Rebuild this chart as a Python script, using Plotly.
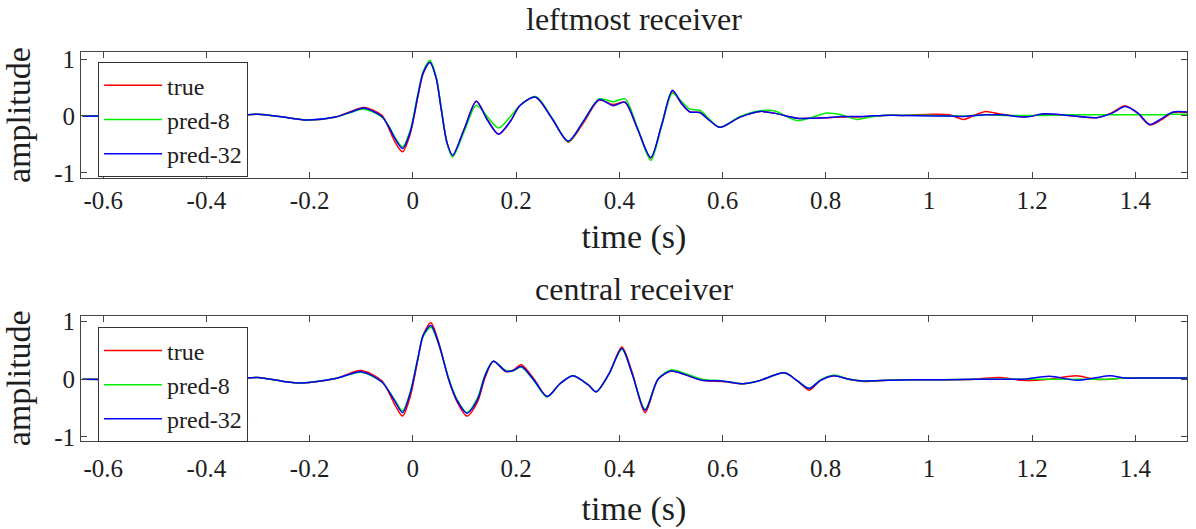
import plotly.graph_objects as go

# ---- leftmost receiver ----
t_left = [-0.64, -0.35, -0.30, -0.25, -0.205, -0.15, -0.12, -0.095, -0.06, -0.045, -0.035, -0.02,
          -0.005, 0.01, 0.02, 0.033, 0.045, 0.055, 0.066, 0.077, 0.10, 0.123, 0.145, 0.166, 0.19,
          0.207, 0.238, 0.27, 0.301, 0.33, 0.361, 0.388, 0.411, 0.435, 0.461, 0.482, 0.503, 0.52,
          0.537, 0.556, 0.575, 0.595, 0.634, 0.673, 0.70, 0.744, 0.775, 0.802, 0.83, 0.86, 0.885,
          0.911, 0.95, 1.008, 1.04, 1.067, 1.09, 1.11, 1.14, 1.189, 1.222, 1.27, 1.325, 1.355,
          1.38, 1.405, 1.428, 1.45, 1.473, 1.5]
left_true = [0, 0, 0.03, -0.02, -0.07, -0.02, 0.08, 0.15, 0.01, -0.25, -0.45, -0.63,
             -0.31, 0.35, 0.74, 0.95, 0.68, 0.12, -0.47, -0.70, -0.22, 0.26, -0.07, -0.32, -0.08,
             0.18, 0.33, -0.05, -0.46, -0.13, 0.28, 0.20, 0.24, -0.22, -0.74, -0.16, 0.43, 0.22,
             0.07, 0.06, -0.08, -0.20, -0.02, 0.08, 0.05, -0.04, -0.04, -0.03, -0.02, -0.02, -0.01,
             0.01, 0.01, 0.03, 0.02, -0.06, 0.02, 0.08, 0.03, -0.01, 0.03, 0.01, -0.03, 0.06,
             0.18, 0.04, -0.16, -0.07, 0.06, 0.06]
left_pred8 = [0, 0, 0.03, -0.02, -0.07, -0.02, 0.06, 0.12, -0.02, -0.20, -0.37, -0.54,
              -0.25, 0.40, 0.78, 0.98, 0.70, 0.15, -0.47, -0.72, -0.26, 0.19, -0.02, -0.21, 0.0,
              0.18, 0.34, -0.04, -0.45, -0.10, 0.30, 0.25, 0.30, -0.20, -0.78, -0.18, 0.40, 0.26,
              0.12, 0.10, -0.06, -0.20, -0.01, 0.09, 0.09, -0.08, -0.02, 0.05, 0.02, -0.06, -0.02,
              0.01, 0.01, 0.01, 0.0, 0.0, 0.01, 0.02, 0.01, 0.01, 0.01, 0.02, 0.02, 0.02,
              0.02, 0.02, 0.02, 0.02, 0.03, 0.03]
left_pred32 = [0, 0, 0.03, -0.02, -0.07, -0.02, 0.07, 0.14, -0.01, -0.22, -0.39, -0.57,
               -0.28, 0.37, 0.76, 0.94, 0.67, 0.12, -0.46, -0.69, -0.22, 0.26, -0.08, -0.32, -0.08,
               0.18, 0.33, -0.05, -0.44, -0.10, 0.29, 0.18, 0.24, -0.22, -0.73, -0.16, 0.45, 0.23,
               0.07, 0.06, -0.08, -0.20, -0.02, 0.08, 0.05, -0.04, -0.04, -0.03, -0.01, -0.01, 0.0,
               0.01, 0.01, 0.0, 0.0, -0.01, 0.01, 0.02, 0.02, -0.02, 0.04, 0.01, -0.03, 0.05,
               0.165, 0.05, -0.15, -0.05, 0.07, 0.07]

# ---- central receiver ----
t_central = [-0.64, -0.35, -0.30, -0.25, -0.215, -0.15, -0.10, -0.06, -0.035, -0.02, -0.005, 0.01,
             0.02, 0.035, 0.05, 0.07, 0.085, 0.105, 0.125, 0.14, 0.156, 0.18, 0.195, 0.21, 0.235,
             0.26, 0.285, 0.31, 0.34, 0.355, 0.38, 0.405, 0.425, 0.45, 0.475, 0.50, 0.53, 0.56,
             0.60, 0.64, 0.67, 0.72, 0.745, 0.768, 0.79, 0.815, 0.845, 0.873, 0.92, 0.97, 1.03,
             1.09, 1.138, 1.18, 1.234, 1.286, 1.32, 1.351, 1.38, 1.409, 1.45, 1.5]
central_true = [0, 0, 0.03, -0.04, -0.065, 0.01, 0.15, -0.03, -0.44, -0.64, -0.30, 0.35,
                0.76, 0.98, 0.64, -0.02, -0.38, -0.64, -0.40, 0.03, 0.31, 0.13, 0.16, 0.25, 0.0,
                -0.30, -0.08, 0.06, -0.10, -0.22, 0.09, 0.56, 0.12, -0.58, 0.0, 0.14, 0.07, -0.02,
                -0.04, -0.08, -0.03, 0.11, -0.03, -0.19, -0.02, 0.06, 0.0, -0.04, -0.02, -0.01, -0.01,
                0.0, 0.03, -0.02, 0.0, 0.06, 0.0, 0.0, 0.02, 0.02, 0.02, 0.02]
central_pred8 = [0, 0, 0.03, -0.04, -0.065, 0.01, 0.12, -0.05, -0.36, -0.55, -0.22, 0.38,
                 0.74, 0.90, 0.60, 0.0, -0.34, -0.58, -0.33, 0.08, 0.31, 0.15, 0.15, 0.21, -0.03,
                 -0.31, -0.08, 0.06, -0.10, -0.22, 0.09, 0.52, 0.09, -0.52, 0.0, 0.16, 0.09, 0.0,
                 -0.03, -0.08, -0.03, 0.11, -0.03, -0.16, -0.01, 0.07, 0.0, -0.03, -0.02, -0.01, -0.01,
                 0.0, 0.0, 0.0, 0.0, 0.0, 0.0, 0.0, 0.02, 0.02, 0.02, 0.02]
central_pred32 = [0, 0, 0.03, -0.04, -0.065, 0.01, 0.13, -0.05, -0.38, -0.58, -0.24, 0.37,
                  0.76, 0.93, 0.62, -0.02, -0.36, -0.59, -0.36, 0.06, 0.31, 0.14, 0.15, 0.22, -0.02,
                  -0.30, -0.08, 0.06, -0.10, -0.22, 0.09, 0.53, 0.09, -0.54, 0.0, 0.14, 0.07, -0.02,
                  -0.03, -0.08, -0.03, 0.11, -0.03, -0.16, -0.02, 0.06, 0.0, -0.03, -0.02, -0.01, -0.01,
                  0.0, 0.0, 0.0, 0.05, -0.02, 0.02, 0.06, 0.02, 0.02, 0.02, 0.02]

series_names = ["true", "pred-8", "pred-32"]
series_colors = ["#ff0000", "#00ee00", "#0000ff"]

x_tickvals = [-0.6, -0.4, -0.2, 0, 0.2, 0.4, 0.6, 0.8, 1.0, 1.2, 1.4]
x_ticktext = ["-0.6", "-0.4", "-0.2", "0", "0.2", "0.4", "0.6", "0.8", "1", "1.2", "1.4"]
y_tickvals = [-1, 0, 1]
y_ticktext = ["-1", "0", "1"]

FONT = "Liberation Serif"
AXIS_COLOR = "#444444"
TEXT_COLOR = "#1e1e1e"

fig = go.Figure()

panels = [
    (t_left, [left_true, left_pred8, left_pred32], "x", "y", "legend"),
    (t_central, [central_true, central_pred8, central_pred32], "x2", "y2", "legend2"),
]
for t, curves, xa, ya, leg in panels:
    for name, color, vals in zip(series_names, series_colors, curves):
        fig.add_trace(go.Scatter(
            x=t, y=vals, mode="lines", name=name, xaxis=xa, yaxis=ya, legend=leg,
            line=dict(color=color, width=1.5, shape="spline", smoothing=0.8),
        ))

axis_common = dict(
    showline=True, linecolor=AXIS_COLOR, linewidth=1, mirror="ticks",
    ticks="inside", ticklen=6, tickcolor=AXIS_COLOR, tickwidth=1,
    showgrid=False, zeroline=False,
    tickfont=dict(family=FONT, size=25, color=TEXT_COLOR),
)

def x_axis(label_shift, title_gap):
    return dict(axis_common, range=[-0.643, 1.5], tickvals=x_tickvals, ticktext=x_ticktext,
                ticklabelstandoff=label_shift,
                title=dict(text="time (s)", font=dict(family=FONT, size=34, color=TEXT_COLOR),
                           standoff=title_gap))

y_common = dict(axis_common, tickvals=y_tickvals, ticktext=y_ticktext,
                title=dict(text="amplitude", font=dict(family=FONT, size=34, color=TEXT_COLOR),
                           standoff=15))

legend_common = dict(
    bgcolor="white", bordercolor="#333333", borderwidth=1,
    font=dict(family=FONT, size=24, color=TEXT_COLOR),
    xanchor="left", yanchor="top", itemwidth=58, tracegroupgap=0,
)

fig.update_layout(
    width=1196, height=529,
    margin=dict(l=0, r=0, t=0, b=0),
    paper_bgcolor="white", plot_bgcolor="white",
    xaxis=dict(x_axis(0, 11), domain=[0.0677, 0.9925], anchor="y"),
    yaxis=dict(y_common, domain=[0.666, 0.9117], anchor="x", range=[-1.09, 1.12]),
    xaxis2=dict(x_axis(5, 15), domain=[0.0677, 0.9925], anchor="y2"),
    yaxis2=dict(y_common, domain=[0.1526, 0.397], anchor="x2", range=[-1.07, 1.10]),
    legend=dict(legend_common, x=0.082, y=1 - 57 / 529),
    legend2=dict(legend_common, x=0.082, y=1 - 331 / 529),
    annotations=[
        dict(text="leftmost receiver", xref="paper", yref="paper", x=0.53, y=1 - 12 / 529,
             xanchor="center", yanchor="middle", showarrow=False,
             font=dict(family=FONT, size=32, color=TEXT_COLOR)),
        dict(text="central receiver", xref="paper", yref="paper", x=0.53, y=1 - 291 / 529,
             xanchor="center", yanchor="middle", showarrow=False,
             font=dict(family=FONT, size=32, color=TEXT_COLOR)),
    ],
    showlegend=True,
)

fig.write_html("out.html")
